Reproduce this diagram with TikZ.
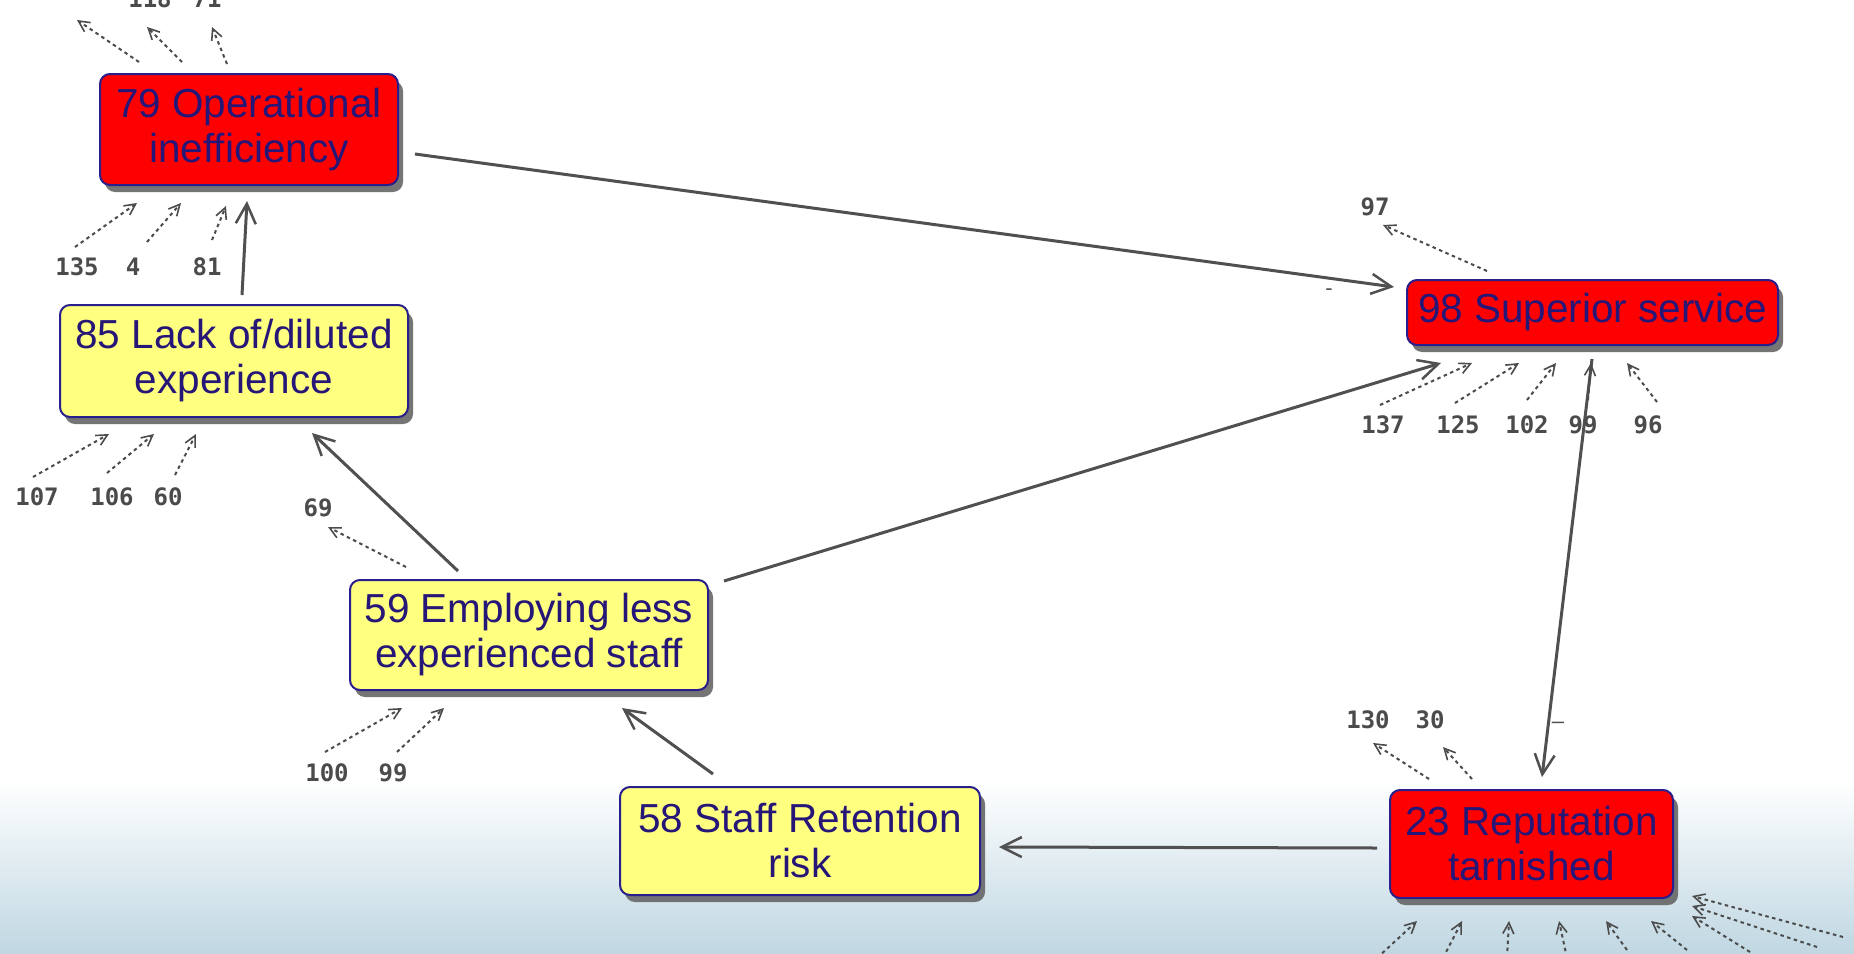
\documentclass[tikz,border=0pt]{standalone}
\usepackage{fontspec}
\setmainfont{Liberation Sans}
\newfontfamily\numfont{DejaVu Sans Mono}
\usetikzlibrary{arrows.meta,calc,shadows}
\definecolor{boxred}{RGB}{255,0,0}
\definecolor{boxyellow}{RGB}{255,255,128}
\definecolor{navytext}{RGB}{38,22,120}
\definecolor{navyline}{RGB}{40,30,140}
\definecolor{arrowgray}{RGB}{80,80,80}
\definecolor{stubgray}{RGB}{75,75,75}
\definecolor{bgblue}{RGB}{192,215,226}
\begin{document}
\begin{tikzpicture}[x=1pt,y=-1pt,
  box/.style={draw=navyline, line width=2pt, rounded corners=10pt, align=center,
    font=\fontsize{40.5}{45}\selectfont, text=navytext, inner sep=0pt,
    drop shadow={shadow xshift=5pt, shadow yshift=-7pt, fill=black!60, opacity=0.9}},
  redbox/.style={box, fill=boxred},
  yelbox/.style={box, fill=boxyellow},
  main/.style={draw=arrowgray, line width=3pt, -{Straight Barb[length=20pt,width=20pt,line width=2.5pt]}},
  stub/.style={draw=stubgray, line width=2pt, dash pattern=on 3.5pt off 3.5pt, -{Straight Barb[length=11pt,width=11pt,line width=1.6pt]}},
  num/.style={font=\numfont\bfseries\fontsize{24}{24}\selectfont, text=stubgray, inner sep=0pt},
  polmark/.style={font=\fontsize{22}{22}\selectfont, text=arrowgray, inner sep=0pt}]
\useasboundingbox (0,0) rectangle (1854,953);
\clip (0,0) rectangle (1854,953);
\fill[white] (0,0) rectangle (1854,953);
\shade[top color=white, bottom color=bgblue] (0,780) rectangle (1854,953);

% main nodes
\node[redbox, minimum width=298pt, minimum height=111pt] (n79) at (249,129.5) {79 Operational\\inefficiency};
\node[yelbox, minimum width=348pt, minimum height=112pt] (n85) at (234,361) {85 Lack of/diluted\\experience};
\node[redbox, minimum width=371pt, minimum height=65pt] (n98) at (1592.5,312.5) {98 Superior service};
\node[redbox, minimum width=283pt, minimum height=108pt] (n23) at (1531.5,844) {23 Reputation\\tarnished};
\node[yelbox, minimum width=358pt, minimum height=110pt] (n59) at (529,635) {59 Employing less\\experienced staff};
\node[yelbox, minimum width=360pt, minimum height=108pt] (n58) at (800,841) {58 Staff Retention\\risk};

% main connectors
\draw[main] ($(n79.east)+(16,24.5)$) -- ($(n98.west)+(-12,-25.5)$);
\draw[main] ($(n85.north)+(8,-9)$) -- ($(n79.south)+(-2,15)$);
\draw[main] ($(n59.north)+(-71,-8)$) -- ($(n85.south)+(78,15)$);
\draw[main] ($(n59.north east)+(15,2)$) -- ($(n98.south west)+(35,17)$);
\draw[main] ($(n98.south)+(-0.5,13)$) -- ($(n23.north)+(10.5,-12)$);
\draw[main] ($(n23.west)+(-12,4)$) -- ($(n58.east)+(18,6)$);
\draw[main] ($(n58.north)+(-87,-12)$) -- ($(n59.south)+(93,17)$);

% polarity marks
\node[polmark] (m1) at (1329,292) {-};
\node[polmark] (m2) at (1558,725) {–};

% stubs around 79
\coordinate (o79a) at (77,20);
\coordinate (o79b) at (147,27);
\coordinate (o79c) at (212,27);
\node[num, anchor=base] (l118) at (150,8) {118};
\node[num, anchor=base] (l71) at (207,8) {71};
\draw[stub] ($(n79.north west)+(40,-11)$) -- (o79a);
\draw[stub] ($(n79.north west)+(83,-11)$) -- (o79b);
\draw[stub] ($(n79.north west)+(128,-9)$) -- (o79c);
\coordinate (i79a) at (75,247);
\coordinate (i79b) at (147,242);
\coordinate (i79c) at (212,240);
\node[num] (l135) at (77,267) {135};
\node[num] (l4) at (133,267) {4};
\node[num] (l81) at (207,267) {81};
\draw[stub] (i79a) -- ($(n79.south west)+(38,17)$);
\draw[stub] (i79b) -- ($(n79.south west)+(82,17)$);
\draw[stub] (i79c) -- ($(n79.south west)+(127,20)$);

% stubs around 85
\coordinate (i85a) at (33,477);
\coordinate (i85b) at (107,473);
\coordinate (i85c) at (175,475);
\node[num] (l107) at (37,497) {107};
\node[num] (l106) at (112,497) {106};
\node[num] (l60) at (168,497) {60};
\draw[stub] (i85a) -- ($(n85.south west)+(50,16)$);
\draw[stub] (i85b) -- ($(n85.south west)+(95,16)$);
\draw[stub] (i85c) -- ($(n85.south west)+(137,16)$);

% stubs around 59
\coordinate (o59a) at (328,527);
\node[num] (l69) at (318,508) {69};
\draw[stub] ($(n59.north west)+(57,-12)$) -- (o59a);
\coordinate (i59a) at (325,752);
\coordinate (i59b) at (397,752);
\node[num] (l100) at (327,773) {100};
\node[num] (l99a) at (393,773) {99};
\draw[stub] (i59a) -- ($(n59.south west)+(53,17)$);
\draw[stub] (i59b) -- ($(n59.south west)+(95,17)$);

% stubs around 98
\coordinate (o98a) at (1383,225);
\node[num] (l97) at (1375,207) {97};
\draw[stub] ($(n98.north west)+(81,-8)$) -- (o98a);
\coordinate (i98a) at (1380,405);
\coordinate (i98b) at (1455,403);
\coordinate (i98c) at (1527,400);
\coordinate (i98d) at (1588,400);
\coordinate (i98e) at (1657,402);
\node[num] (l137) at (1383,425) {137};
\node[num] (l125) at (1458,425) {125};
\node[num] (l102) at (1527,425) {102};
\node[num] (l99b) at (1583,425) {99};
\node[num] (l96) at (1648,425) {96};
\draw[stub] (i98a) -- ($(n98.south west)+(66,17)$);
\draw[stub] (i98b) -- ($(n98.south west)+(113,17)$);
\draw[stub] (i98c) -- ($(n98.south west)+(150,17)$);
\draw[stub] (i98d) -- ($(n98.south west)+(185,17)$);
\draw[stub] (i98e) -- ($(n98.south west)+(221,17)$);

% stubs around 23
\coordinate (o23a) at (1373,743);
\coordinate (o23b) at (1443,747);
\node[num] (l130) at (1368,720) {130};
\node[num] (l30) at (1430,720) {30};
\draw[stub] ($(n23.north west)+(40,-10)$) -- (o23a);
\draw[stub] ($(n23.north west)+(83,-10)$) -- (o23b);
\coordinate (i23a) at (1377,958);
\coordinate (i23b) at (1443,958);
\coordinate (i23c) at (1507,958);
\coordinate (i23d) at (1567,958);
\coordinate (i23e) at (1627,950);
\coordinate (i23f) at (1687,950);
\coordinate (i23g) at (1750,952);
\coordinate (i23h) at (1817,947);
\coordinate (i23i) at (1843,937);
\draw[stub] (i23a) -- ($(n23.south west)+(28,22)$);
\draw[stub] (i23b) -- ($(n23.south west)+(73,22)$);
\draw[stub] (i23c) -- ($(n23.south west)+(120,22)$);
\draw[stub] (i23d) -- ($(n23.south west)+(170,22)$);
\draw[stub] (i23e) -- ($(n23.south west)+(217,22)$);
\draw[stub] (i23f) -- ($(n23.south west)+(262,22)$);
\draw[stub] (i23g) -- ($(n23.south west)+(303,17)$);
\draw[stub] (i23h) -- ($(n23.south west)+(303,7)$);
\draw[stub] (i23i) -- ($(n23.south west)+(303,-3)$);
\end{tikzpicture}
\end{document}
